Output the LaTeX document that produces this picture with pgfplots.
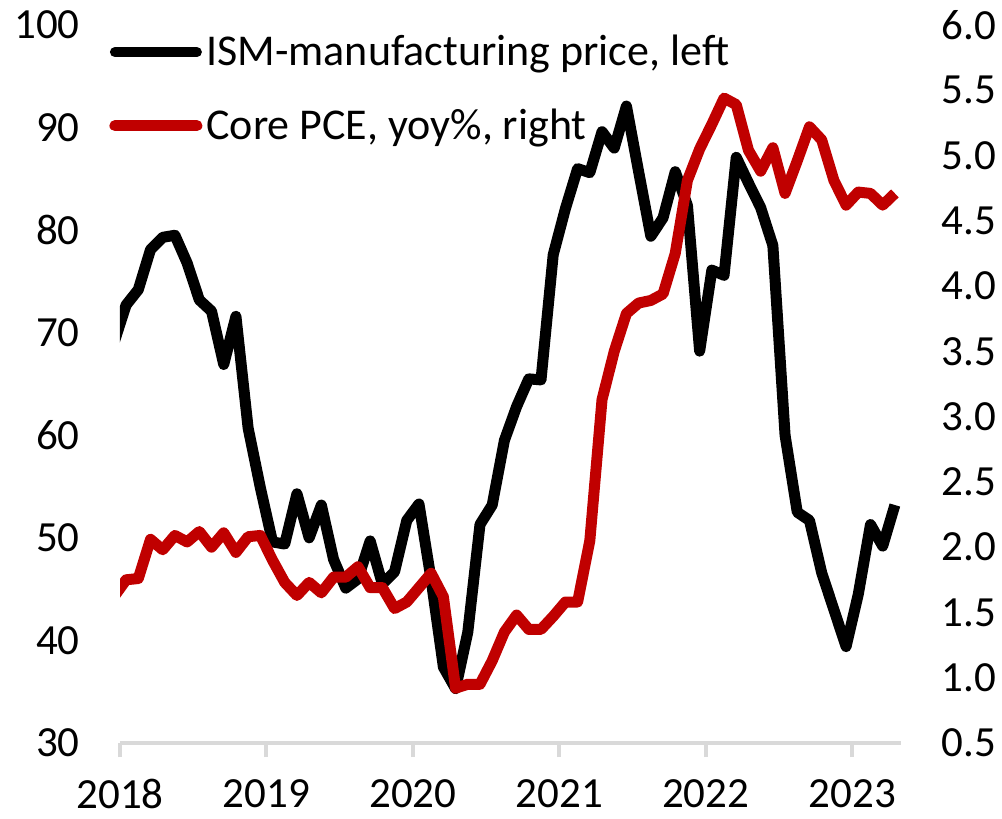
\documentclass[border=0pt]{standalone}
\usepackage{fontspec}
\setmainfont{Carlito}
\usepackage{pgfplots}
\pgfplotsset{compat=1.18}
\usepackage{pgfplotstable}
\definecolor{axisgray}{HTML}{D9D9D9}
\definecolor{pcered}{HTML}{C00000}

% x = month index (Jan 2018 = 0.5, mid-month), ISM prices (left), core PCE yoy% (right)
\pgfplotstableread{
x ism pce
-0.5 69.0 1.62
0.5 72.7 1.75
1.5 74.2 1.76
2.5 78.1 2.06
3.5 79.3 1.98
4.5 79.5 2.09
5.5 76.8 2.04
6.5 73.2 2.12
7.5 72.1 2.00
8.5 66.9 2.11
9.5 71.6 1.96
10.5 60.7 2.08
11.5 54.9 2.09
12.5 49.6 1.90
13.5 49.4 1.73
14.5 54.3 1.63
15.5 50.0 1.73
16.5 53.2 1.65
17.5 47.9 1.77
18.5 45.1 1.77
19.5 46.0 1.85
20.5 49.7 1.69
21.5 45.5 1.69
22.5 46.7 1.53
23.5 51.7 1.58
24.5 53.3 1.69
25.5 45.9 1.80
26.5 37.4 1.62
27.5 35.3 0.92
28.5 40.8 0.95
29.5 51.3 0.95
30.5 53.2 1.13
31.5 59.5 1.35
32.5 62.8 1.48
33.5 65.5 1.37
34.5 65.4 1.37
35.5 77.6 1.47
36.5 82.1 1.58
37.5 86.0 1.58
38.5 85.6 2.05
39.5 89.6 3.13
40.5 88.0 3.50
41.5 92.1 3.79
42.5 85.7 3.87
43.5 79.4 3.89
44.5 81.2 3.94
45.5 85.7 4.25
46.5 82.4 4.81
47.5 68.2 5.05
48.5 76.1 5.24
49.5 75.6 5.44
50.5 87.1 5.39
51.5 84.6 5.04
52.5 82.2 4.88
53.5 78.5 5.06
54.5 60.0 4.71
55.5 52.5 4.96
56.5 51.7 5.22
57.5 46.6 5.12
58.5 43.0 4.81
59.5 39.4 4.62
60.5 44.5 4.72
61.5 51.3 4.71
62.5 49.2 4.62
63.5 53.2 4.71
}\datatable

\pgfplotsset{
  common/.style={
    scale only axis, width=390.5pt, height=359pt,
    xmin=0, xmax=64,
    tick align=outside, major tick length=7pt,
    ticklabel style={font=\fontsize{21.5}{26}\selectfont, inner sep=0pt},
    /pgf/number format/assume math mode=true,
    ytick style={draw=none},
    y axis line style={draw=none},
  }
}

\begin{document}
\begin{tikzpicture}
\useasboundingbox (-60pt,-38pt) rectangle (441pt,371.5pt);
\begin{axis}[common,
  ymin=30, ymax=100,
  axis x line*=bottom, axis y line*=left,
  x axis line style={draw=axisgray, line width=2pt},
  xtick={0,12,24,36,48,60},
  xticklabels={2018,2019,2020,2021,2022,2023},
  xtick style={draw=axisgray, line width=2pt},
  xticklabel style={yshift=-11pt},
  ytick={30,40,...,100},
  yticklabel style={xshift=-13pt},
]
\addplot[black, line width=5.5pt, line join=round] table[x=x, y=ism] {\datatable};
\end{axis}
\begin{axis}[common,
  ymin=0.5, ymax=6.0,
  axis x line=none, axis y line*=right,
  ytick={0.5,1.0,...,6.0},
  yticklabel style={xshift=13pt, /pgf/number format/.cd, fixed, fixed zerofill, precision=1},
  legend style={at={(0,1)}, anchor=north west, xshift=-5.5pt, yshift=-3pt,
    draw=none, fill=none, font=\fontsize{22}{26}\selectfont,
    row sep=16pt, inner sep=0pt, nodes={inner sep=2pt}},
  legend cell align=left,
  legend image code/.code={\draw[#1, line cap=round] (0pt,0pt) -- (41pt,0pt);},
]
\addlegendimage{black, line width=5pt}
\addlegendentry{ISM-manufacturing price, left}
\addplot[pcered, line width=5.5pt, line join=round] table[x=x, y=pce] {\datatable};
\addlegendentry{Core PCE, yoy\%, right}
\end{axis}
\end{tikzpicture}
\end{document}
